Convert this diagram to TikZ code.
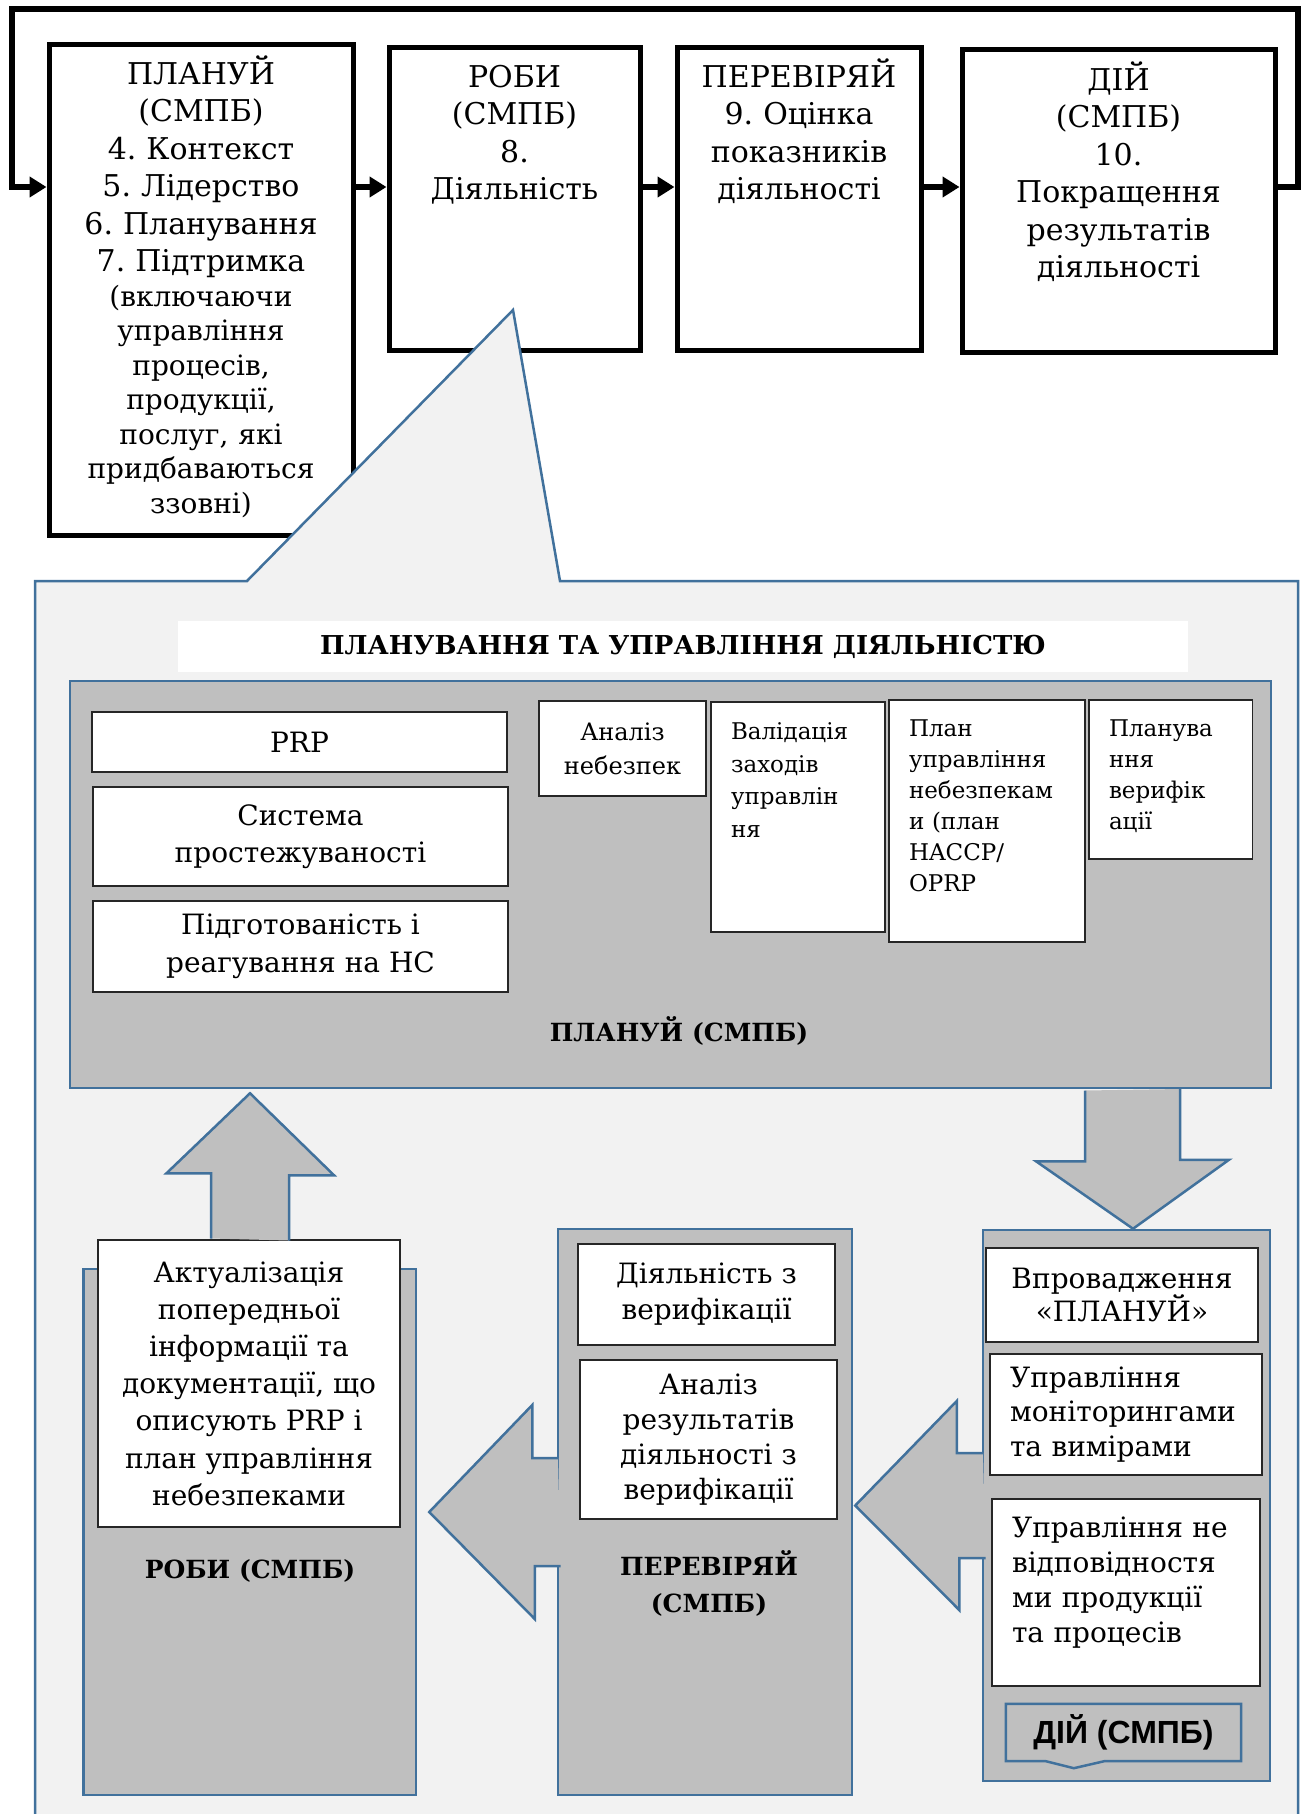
\documentclass[tikz,border=0pt]{standalone}
\usepackage{fontspec}
\setmainfont{DejaVu Serif}
\newfontfamily\labelsans{Liberation Sans}
\usetikzlibrary{arrows.meta, calc}
\usepackage{xcolor}
\definecolor{edgeblue}{RGB}{65, 113, 156}
\definecolor{panelgray}{RGB}{191, 191, 191}
\definecolor{calloutgray}{RGB}{242, 242, 242}
\frenchspacing
\tikzset{
  stepbox/.style={
    rectangle, draw=black, fill=white, line width=5pt,
    align=center, anchor=north, inner xsep=4pt, inner ysep=0pt,
    font=\fontsize{30}{37.5}\selectfont
  },
  panel/.style={
    rectangle, draw=edgeblue, fill=panelgray, line width=2.5pt
  },
  wbox/.style={
    rectangle, draw=black!85, fill=white, line width=1.5pt,
    align=center, inner xsep=6pt,
    font=\fontsize{28}{35}\selectfont
  },
  nbox/.style={
    rectangle, draw=black!85, fill=white, line width=1.5pt,
    align=left, anchor=north, inner xsep=20pt, inner ysep=0pt,
    font=\fontsize{23}{32.5}\selectfont
  },
  plabel/.style={font=\fontsize{25}{37}\selectfont\bfseries, align=center},
  flow/.style={-{Triangle[length=17pt, width=20pt]}, line width=5.5pt},
  blockarrow/.style={draw=edgeblue, fill=panelgray, line width=2.5pt, line join=miter},
}
\begin{document}
\begin{tikzpicture}[x=1pt, y=-1pt]
\useasboundingbox (0,0) rectangle (1308,1814);
% PDCA row
\node[stepbox, minimum width=304pt, text width=292pt, text height=40pt, text depth=451pt] (planuj) at (201,42)
  {ПЛАНУЙ\\(СМПБ)\\4. Контекст\\5. Лідерство\\6. Планування\\7. Підтримка\par
   {\fontsize{28}{34.5}\selectfont (включаючи\\управління\\процесів,\\продукції,\\послуг, які\\придбаваються\\ззовні)\par}};
\node[stepbox, minimum width=251pt, text width=240pt, text height=40pt, text depth=263pt] (robi) at (514.5,45)
  {РОБИ\\(СМПБ)\\8.\\Діяльність};
\node[stepbox, minimum width=244pt, text width=236pt, text height=40pt, text depth=263pt] (perev) at (799,45)
  {ПЕРЕВІРЯЙ\\9. Оцінка\\показників\\діяльності};
\node[stepbox, minimum width=313pt, text width=300pt, text height=41pt, text depth=262pt] (dij) at (1118.5,47)
  {ДІЙ\\(СМПБ)\\10.\\Покращення\\результатів\\діяльності};
\coordinate (arow) at (0,187);
\coordinate (loopR) at (1298,9);
\coordinate (loopL) at (12,9);
\draw[flow] (planuj.east |- arow) -- (robi.west |- arow);
\draw[flow] (robi.east |- arow) -- (perev.west |- arow);
\draw[flow] (perev.east |- arow) -- (dij.west |- arow);
\draw[flow] (dij.east |- arow) -| (loopR) -- (loopL) |- (planuj.west |- arow);

% callout
\path[fill=calloutgray, draw=edgeblue, line width=2.5pt]
  (35,1830) -- (35,581) -- (247,581) -- (513,310) -- (560,581) -- (1298,581) -- (1298,1830) -- cycle;
\node[fill=white, minimum width=1010pt, minimum height=51pt, font=\fontsize{26}{32}\selectfont\bfseries] (title) at (683,646.5)
  {ПЛАНУВАННЯ ТА УПРАВЛІННЯ ДІЯЛЬНІСТЮ};

% plan
\node[panel, minimum width=1201pt, minimum height=407pt] (planpanel) at (670.5,884.5) {};
\node[plabel] (planlbl) at (679,1031) {ПЛАНУЙ (СМПБ)};
\node[wbox, minimum width=415pt, minimum height=60pt] (prp) at (299.5,742) {PRP};
\node[wbox, minimum width=415pt, minimum height=99pt, font=\fontsize{28}{37.5}\selectfont] (trace) at (300.5,836.5) {Система\\простежуваності};
\node[wbox, minimum width=415pt, minimum height=91pt, font=\fontsize{28}{37.5}\selectfont] (emerg) at (300.5,946.5) {Підготованість і\\реагування на НС};
\node[wbox, minimum width=167pt, minimum height=95pt, inner xsep=4pt, font=\fontsize{24}{34}\selectfont] (hazard) at (622.5,748.5) {Аналіз\\небезпек};
\node[nbox, minimum width=174pt, text width=134pt, text height=38pt, text depth=192pt] (valid) at (798,701)
  {Валідація\\заходів\\управлін\\ня};
\node[nbox, minimum width=196pt, text width=156pt, text height=37pt, text depth=205pt, font=\fontsize{23}{31}\selectfont] (hplan) at (987,699)
  {План\\управління\\небезпекам\\и (план\\HACCP/\\OPRP};
\node[nbox, minimum width=163.5pt, text width=123.5pt, text height=37pt, text depth=122pt, font=\fontsize{23}{31}\selectfont] (vplan) at (1170.75,699)
  {Планува\\ння\\верифік\\ації};

% do, check, act
\node[panel, minimum width=332.5pt, minimum height=526pt] (robipanel) at (249.75,1532) {};
\node[panel, minimum width=294pt, minimum height=566pt] (perevpanel) at (705,1512) {};
\node[panel, minimum width=287pt, minimum height=551pt] (dijpanel) at (1126.5,1505.5) {};

\draw[blockarrow] ([xshift=1.25pt, yshift=54pt]perevpanel.west) -- ++(-25.75,0) -- ++(0,-53)
  -- ([xshift=12pt]robipanel.east |- perevpanel.west) -- ++(105.5,107) -- ++(0,-53) -- ++(25.75,0);
\draw[blockarrow] ([xshift=1.25pt, yshift=52.5pt]dijpanel.west) -- ++(-26.25,0) -- ++(0,-52)
  -- ([xshift=2pt]perevpanel.east |- dijpanel.west) -- ++(104,104.5) -- ++(0,-52) -- ++(26.25,0);
\draw[blockarrow] ($(dijpanel.north |- planpanel.south)+(-41.5,1.25)$) -- ++(0,70.75) -- ++(-49,0)
  -- ([xshift=6.5pt]dijpanel.north) -- ++(96,-69) -- ++(-49,0) -- ++(0,-70.75);

\node[wbox, minimum width=302pt, minimum height=287pt, font=\fontsize{28}{37.2}\selectfont] (update) at (249,1383.5)
  {Актуалізація\\попередньої\\інформації та\\документації, що\\описують PRP і\\план управління\\небезпеками};
\draw[blockarrow] ([xshift=-38pt, yshift=0.75pt]update.north) -- ++(0,-65.25) -- ++(-44.5,0)
  -- ([xshift=1pt, yshift=-4pt]update.north |- planpanel.south) -- ++(84,82) -- ++(-45,0) -- ++(0,65.25);
\node[plabel] (robilbl) at (250,1571) {РОБИ (СМПБ)};

\node[wbox, minimum width=257pt, minimum height=101pt, font=\fontsize{28}{36}\selectfont] (vact) at (706.5,1294.5) {Діяльність з\\верифікації};
\node[wbox, minimum width=257pt, minimum height=159pt] (vres) at (708.5,1439.5) {Аналіз\\результатів\\діяльності з\\верифікації};
\node[plabel] (perevlbl) at (709,1583.5) {ПЕРЕВІРЯЙ\\(СМПБ)};

\node[wbox, minimum width=272pt, minimum height=94pt, font=\fontsize{28}{33}\selectfont] (impl) at (1122,1295) {Впровадження\\«ПЛАНУЙ»};
\node[wbox, align=left, minimum width=272pt, minimum height=121pt, text width=232pt, inner xsep=20pt,
  font=\fontsize{28}{34.5}\selectfont] (monit) at (1126,1414.5) {Управління\\моніторингами\\та вимірами};
\node[nbox, minimum width=268pt, text width=228pt, text height=39pt, text depth=148pt,
  font=\fontsize{28}{35}\selectfont] (noncon) at (1126,1498) {Управління не\\відповідностя\\ми продукції\\та процесів};
\node[font=\labelsans\fontsize{32}{36}\selectfont\bfseries, minimum width=235pt, minimum height=57pt] (dijlbl) at (1123.5,1732.5) {ДІЙ (СМПБ)};
\draw[edgeblue, line width=2.5pt] (dijlbl.south west) -- (dijlbl.north west) -- (dijlbl.north east) -- (dijlbl.south east)
  -- ([xshift=-137pt]dijlbl.south east) -- ([xshift=68pt, yshift=-7pt]dijlbl.south west) -- ([xshift=40pt]dijlbl.south west) -- cycle;
\end{tikzpicture}
\end{document}
